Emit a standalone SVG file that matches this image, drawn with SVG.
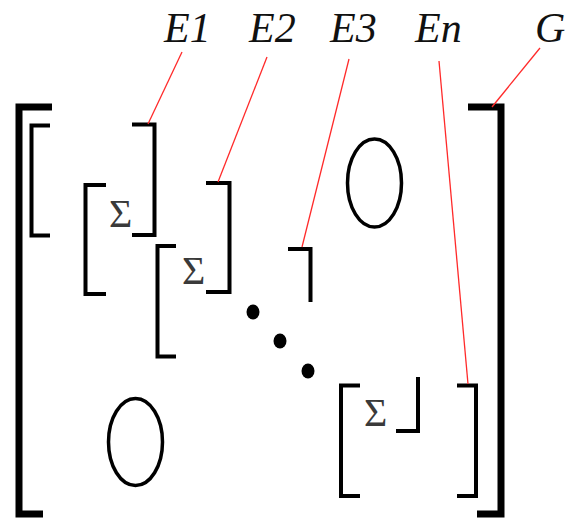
<svg xmlns="http://www.w3.org/2000/svg" width="571" height="519" viewBox="0 0 571 519">
  <style>
    .big { fill: none; stroke: #000; stroke-width: 7; stroke-linejoin: miter; }
    .br { fill: none; stroke: #000; stroke-width: 4; stroke-linejoin: miter; }
    .oval { fill: none; stroke: #000; stroke-width: 3.5; }
    .dot { fill: #000; }
    .sig { font-size: 40px; fill: #3a3a3a; }
    .lbl { font-style: italic; font-size: 42px; fill: #111; }
    .lead { stroke: #ff2a2a; stroke-width: 1.3; fill: none; }
  </style>

  <!-- labels -->
  <g id="labels" font-family="Times New Roman, Liberation Serif, DejaVu Serif, serif">
    <text class="lbl" x="164" y="42">E1</text>
    <text class="lbl" x="249" y="42">E2</text>
    <text class="lbl" x="330" y="42">E3</text>
    <text class="lbl" x="415" y="42">En</text>
    <text class="lbl" x="535" y="42">G</text>
  </g>

  <!-- outer matrix G -->
  <g id="G">
    <path class="big" d="M52,107 H19 V514 H43"/>
    <path class="big" d="M468,107 H501 V514 H477"/>
  </g>

  <!-- block E1 -->
  <g id="E1">
    <path class="br" d="M50,125.5 H31.5 V235.5 H50"/>
    <path class="br" d="M132,124.5 H154.5 V235 H132"/>
  </g>

  <!-- block E2 -->
  <g id="E2" font-family="Times New Roman, Liberation Serif, DejaVu Serif, serif">
    <path class="br" d="M106,185 H85.5 V294 H106"/>
    <text class="sig" x="109" y="227">Σ</text>
    <path class="br" d="M206,183 H229.5 V292 H206"/>
  </g>

  <!-- block E3 -->
  <g id="E3" font-family="Times New Roman, Liberation Serif, DejaVu Serif, serif">
    <path class="br" d="M176,246 H157.5 V356.5 H176"/>
    <text class="sig" x="182" y="284">Σ</text>
    <path class="br" d="M288,249 H310.5 V302"/>
  </g>

  <!-- diagonal ellipsis -->
  <g id="dots">
    <ellipse class="dot" cx="253" cy="312" rx="6.5" ry="7.5"/>
    <ellipse class="dot" cx="280" cy="341" rx="6.5" ry="7.5"/>
    <ellipse class="dot" cx="308" cy="371" rx="6.5" ry="7.5"/>
  </g>

  <!-- block En -->
  <g id="En" font-family="Times New Roman, Liberation Serif, DejaVu Serif, serif">
    <path class="br" d="M360,385.5 H341 V496 H360"/>
    <text class="sig" x="364" y="426">Σ</text>
    <path class="br" d="M418,377 V431 H396"/>
    <path class="br" d="M457,385.5 H476 V496 H457"/>
  </g>

  <!-- zero blocks -->
  <g id="zero-upper">
    <ellipse class="oval" cx="374.5" cy="183" rx="27" ry="44"/>
  </g>
  <g id="zero-lower">
    <ellipse class="oval" cx="135.5" cy="442" rx="27" ry="43.5"/>
  </g>

  <!-- leader lines -->
  <g id="connectors">
    <line class="lead" x1="182" y1="52" x2="148" y2="124"/>
    <line class="lead" x1="267" y1="57" x2="218" y2="182"/>
    <line class="lead" x1="349" y1="59" x2="302" y2="247"/>
    <line class="lead" x1="439" y1="61" x2="468" y2="384"/>
    <line class="lead" x1="540" y1="48" x2="492" y2="107"/>
  </g>
</svg>
